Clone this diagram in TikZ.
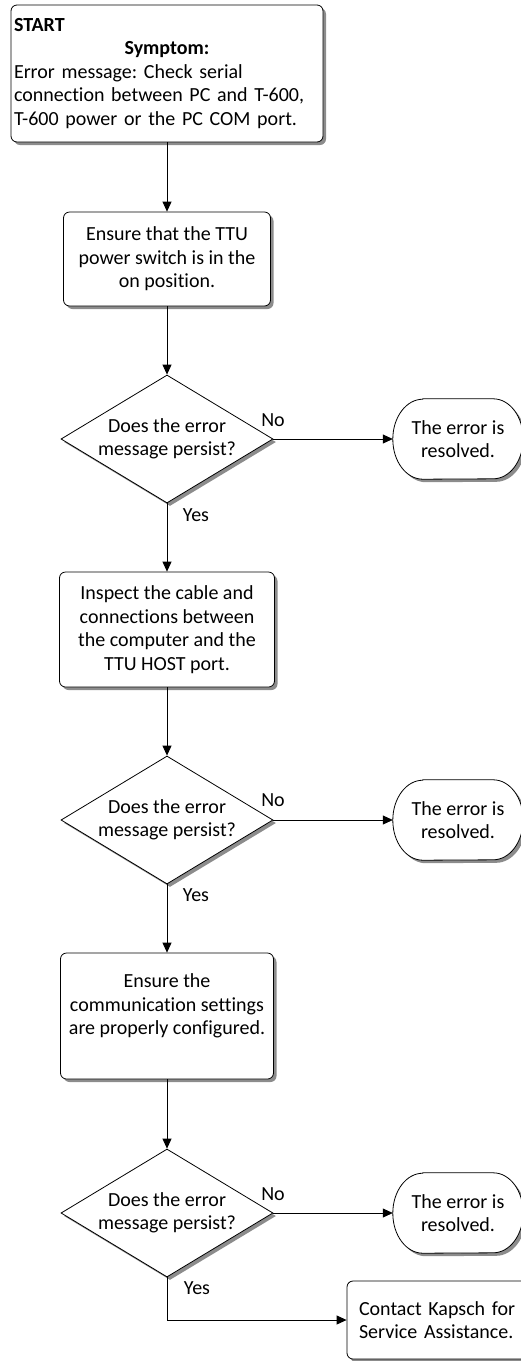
\documentclass[tikz,border=0pt]{standalone}
\usepackage{fontspec}
\setmainfont{Carlito}[Ligatures=NoCommon]
\frenchspacing
\usetikzlibrary{shapes.geometric,shadows,arrows.meta,calc}
\pgfdeclarelayer{background}
\pgfsetlayers{background,main}

\begin{document}
\begin{tikzpicture}[x=1pt,y=1pt,
  every node/.style={font=\fontsize{20}{23.5}\selectfont},
  boxshadow/.style={drop shadow={shadow xshift=3pt,shadow yshift=-3pt,fill=black!45,opacity=1}},
  procbox/.style={draw,line width=0.8pt,fill=white,rounded corners=6pt,boxshadow,align=center,inner sep=0pt},
  decision/.style={diamond,draw,line width=0.8pt,fill=white,boxshadow,align=center,inner sep=-15pt,
                   minimum width=212pt,minimum height=128pt},
  termtext/.style={inner sep=0pt,align=center,minimum width=130pt,minimum height=80pt},
  termshape/.style={draw,line width=0.8pt,fill=white,boxshadow},
  arr/.style={line width=0.8pt,-{Triangle[length=10pt,width=9pt]}},
  lbl/.style={inner sep=0pt}
]
\useasboundingbox (0,0) rectangle (521,-1361);
\clip (0,0) rectangle (521,-1361);

% main column
\node[procbox,minimum width=312pt,minimum height=137pt,text width=306pt,inner xsep=3pt,align=left]
  (start) at (167,-73.5)
  {\textbf{START}\\
   \makebox[306pt]{\textbf{Symptom:}}\\
   Error message: Check serial\\
   connection between PC and T-600,\\
   T-600 power or the PC COM port.};

\node[procbox,minimum width=207pt,minimum height=94pt] (b2) at (167,-259)
  {Ensure that the TTU\\power switch is in the\\on position.};

\node[decision] (d1) at (167,-439) {Does the error\\message persist?};

\node[procbox,minimum width=215pt,minimum height=115pt] (b3) at (167,-629.5)
  {Inspect the cable and\\connections between\\the computer and the\\TTU HOST port.};

\node[decision] (d2) at (167,-820) {Does the error\\message persist?};

\node[procbox,minimum width=213pt,minimum height=126pt] (b4) at (167,-1016)
  {Ensure the\\communication settings\\are properly configured.\\\mbox{}};

\node[decision] (d3) at (167,-1213) {Does the error\\message persist?};

% terminators on the right
\node[termtext] (t1) at (458,-439) {The error is\\resolved.};
\node[termtext] (t2) at (458,-820) {The error is\\resolved.};
\node[termtext] (t3) at (458,-1213) {The error is\\resolved.};

\begin{pgfonlayer}{background}
\foreach \t in {t1,t2,t3}{
  \path[termshape] ($(\t.north west)+(30,0)$) -- ($(\t.north east)+(-30,0)$)
    arc[start angle=90,end angle=-90,x radius=30,y radius=40]
    -- ($(\t.south west)+(30,0)$)
    arc[start angle=270,end angle=90,x radius=30,y radius=40] -- cycle;
}
\end{pgfonlayer}

\node[procbox,minimum width=183pt,minimum height=78pt,text width=159pt,inner xsep=12pt,align=left]
  (contact) at (438.5,-1320) {\raisebox{-4pt}{\parbox{159pt}{Contact Kapsch for\\Service Assistance.}}};

% branch labels
\node[lbl] (no1) at (273,-420) {No};
\node[lbl] (yes1) at (196,-515) {Yes};
\node[lbl] (no2) at (273,-800) {No};
\node[lbl] (yes2) at (196,-895) {Yes};
\node[lbl] (no3) at (273,-1194) {No};
\node[lbl] (yes3) at (197,-1288) {Yes};

% connectors
\draw[arr] (start) -- (b2);
\draw[arr] (b2) -- (d1);
\draw[arr] (d1.east) -- (t1.west);
\draw[arr] (d1) -- (b3);
\draw[arr] (b3) -- (d2);
\draw[arr] (d2.east) -- (t2.west);
\draw[arr] (d2) -- (b4);
\draw[arr] (b4) -- (d3);
\draw[arr] (d3.east) -- (t3.west);
\draw[arr] (d3.south) |- (contact.west);
\end{tikzpicture}
\end{document}
